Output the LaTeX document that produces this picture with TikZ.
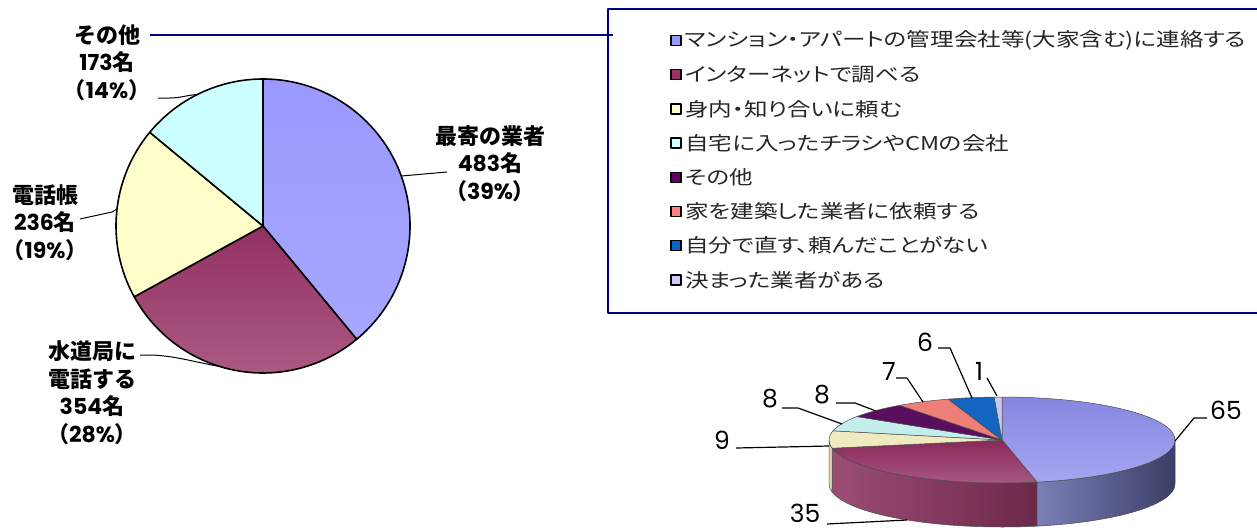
\documentclass[tikz,border=0pt]{standalone}
\usepackage{fontspec}
\setmainfont{Noto Sans CJK JP}
\newfontfamily\legendfont{Noto Sans CJK JP}[FakeStretch=1.24, RawFeature=+palt]
\newfontfamily\numfont{Poppins}
\newcommand{\dg}[1]{{\numfont #1}}
\definecolor{navyline}{HTML}{000080}
\definecolor{cA}{HTML}{9999FF}
\definecolor{cB}{HTML}{993366}
\definecolor{cC}{HTML}{FFFFCC}
\definecolor{cD}{HTML}{CCFFFF}
\definecolor{cE}{HTML}{660066}
\definecolor{cF}{HTML}{FF8080}
\definecolor{cG}{HTML}{0066CC}
\definecolor{cH}{HTML}{CCCCFF}
\definecolor{pA1}{HTML}{9A9AFF}
\definecolor{pA2}{HTML}{A6A6FF}
\definecolor{pB1}{HTML}{923062}
\definecolor{pB2}{HTML}{AC5C84}
\definecolor{tA1}{HTML}{8686E0}
\definecolor{tA2}{HTML}{A6A6F2}
\definecolor{tB1}{HTML}{882A5A}
\definecolor{tB2}{HTML}{AA5884}
\definecolor{tC}{HTML}{F0EAC0}
\definecolor{tD}{HTML}{C4EEEE}
\definecolor{tE}{HTML}{5A0E5E}
\definecolor{tF}{HTML}{EE7F78}
\definecolor{tG}{HTML}{1464C2}
\definecolor{tH}{HTML}{C9C9F0}
\definecolor{sA1}{HTML}{7B7FB5}
\definecolor{sA2}{HTML}{3B3E66}
\definecolor{sB1}{HTML}{9C4D74}
\definecolor{sB2}{HTML}{A9557E}
\definecolor{sB3}{HTML}{6C2849}
\definecolor{sC}{HTML}{E4DCAE}
\begin{document}
\begin{tikzpicture}[x=1pt,y=1pt,line join=round,
  lbl/.style={font=\bfseries\fontsize{22}{27.5}\selectfont, align=center, inner sep=0pt},
  leg/.style={font=\legendfont\fontsize{19}{22}\selectfont, anchor=west, inner sep=0pt, text=black!85},
  legmark/.style={draw=black, line width=1.5pt, minimum size=10pt, inner sep=0pt},
  num/.style={font=\numfont\fontsize{25}{28}\selectfont, inner sep=0pt},
  leader/.style={draw=black, line width=1pt},
  lead3d/.style={draw=black, line width=1.2pt},
  pieline/.style={draw=black, line width=1.6pt},
  edge3d/.style={draw=black!70, line width=0.5pt},
]
\useasboundingbox (0,0) rectangle (1257,-530);
\fill[white] (0,0) rectangle (1257,-530);

% ---------- left pie ----------
\coordinate (C) at (263,-226);
\path[pieline, top color=pA1, bottom color=pA2, shift={(C)}] (0,0) -- (90:147) arc[start angle=90, end angle=-50.4, radius=147] -- cycle;
\path[pieline, top color=pB1, bottom color=pB2, shift={(C)}] (0,0) -- (-50.4:147) arc[start angle=-50.4, end angle=-151.2, radius=147] -- cycle;
\path[pieline, fill=cC, shift={(C)}] (0,0) -- (-151.2:147) arc[start angle=-151.2, end angle=-219.6, radius=147] -- cycle;
\path[pieline, fill=cD, shift={(C)}] (0,0) -- (-219.6:147) arc[start angle=-219.6, end angle=-270, radius=147] -- cycle;

\node[lbl] (lOther) at (107,-62.5) {その他\\\dg{173}名\\（\dg{14\%}）};
\node[lbl] (lNear) at (490,-163.5) {最寄の業者\\\dg{483}名\\（\dg{39\%}）};
\node[lbl] (lBook) at (45,-222.5) {電話帳\\\dg{236}名\\（\dg{19\%}）};
\node[lbl] (lWater) at (92,-392.5) {水道局に\\電話する\\\dg{354}名\\（\dg{28\%}）};

\coordinate (eOther) at (197.4,-94.5);
\coordinate (eNear) at (401.5,-176);
\coordinate (eBook) at (117,-209);
\coordinate (eWater) at (217,-366);
\coordinate (sOther) at (158,-98);
\coordinate (sNear) at (447,-172);
\coordinate (sBook) at (80,-219);
\coordinate (sWater) at (140,-355);
\draw[leader] (sOther) -- (170,-98) .. controls (180,-98) and (188,-95) .. (eOther);
\draw[leader] (eNear) -- (sNear);
\draw[leader] (sBook) -- (112,-212) -- (eBook);
\draw[leader] (sWater) -- (152,-355) .. controls (175,-356) and (195,-362) .. (eWater);

% ---------- navy connector and legend box ----------
\coordinate (nvA) at (150,-35);
\coordinate (nvB) at (613,-35);
\draw[navyline, line width=2pt] (nvA) -- (nvB);
\draw[navyline, line width=2pt] (608,-9) rectangle (1300,-313);

\foreach \i/\col/\txt in {
 1/cA/{マンション・アパートの管理会社等(大家含む)に連絡する},
 2/cB/{インターネットで調べる},
 3/cC/{身内・知り合いに頼む},
 4/cD/{自宅に入ったチラシやCMの会社},
 5/cE/{その他},
 6/cF/{家を建築した業者に依頼する},
 7/cG/{自分で直す、頼んだことがない},
 8/cH/{決まった業者がある}} {
  \pgfmathsetmacro{\yy}{-40.5-34.2*(\i-1)}
  \node[legmark, fill=\col] (m\i) at (676,\yy) {};
  \node[leg] (t\i) at (685,\yy) {\txt};
}

% ---------- 3D pie ----------
\coordinate (O) at (1002,-440);
% sides
\path[edge3d, left color=sA1, right color=sA2, shift={(O)}] (0:173 and 43) arc[start angle=0, end angle=-78.35, x radius=173, y radius=43] -- ++(0,-44) arc[start angle=-78.35, end angle=0, x radius=173, y radius=43] -- cycle;
\path[edge3d, left color=sB1, middle color=sB2, right color=sB3, shift={(O)}] (-78.35:173 and 43) arc[start angle=-78.35, end angle=-169.0, x radius=173, y radius=43] -- ++(0,-44) arc[start angle=-169.0, end angle=-78.35, x radius=173, y radius=43] -- cycle;
\path[edge3d, fill=sC, shift={(O)}] (-169.0:173 and 43) arc[start angle=-169.0, end angle=-180, x radius=173, y radius=43] -- ++(0,-44) arc[start angle=-180, end angle=-169.0, x radius=173, y radius=43] -- cycle;
% top faces
\path[edge3d, top color=tA1, bottom color=tA2, shift={(O)}] (0,0) -- (90:173 and 43) arc[start angle=90, end angle=-78.35, x radius=173, y radius=43] -- cycle;
\path[edge3d, top color=tB1, bottom color=tB2, shift={(O)}] (0,0) -- (-78.35:173 and 43) arc[start angle=-78.35, end angle=-169.0, x radius=173, y radius=43] -- cycle;
\path[edge3d, fill=tC, shift={(O)}] (0,0) -- (-169.0:173 and 43) arc[start angle=-169.0, end angle=-192.31, x radius=173, y radius=43] -- cycle;
\path[edge3d, fill=tD, shift={(O)}] (0,0) -- (-192.31:173 and 43) arc[start angle=-192.31, end angle=-213.03, x radius=173, y radius=43] -- cycle;
\path[edge3d, fill=tE, shift={(O)}] (0,0) -- (-213.03:173 and 43) arc[start angle=-213.03, end angle=-233.75, x radius=173, y radius=43] -- cycle;
\path[edge3d, fill=tF, shift={(O)}] (0,0) -- (-233.75:173 and 43) arc[start angle=-233.75, end angle=-251.88, x radius=173, y radius=43] -- cycle;
\path[edge3d, fill=tG, shift={(O)}] (0,0) -- (-251.88:173 and 43) arc[start angle=-251.88, end angle=-267.42, x radius=173, y radius=43] -- cycle;
\path[edge3d, fill=tH, shift={(O)}] (0,0) -- (-267.42:173 and 43) arc[start angle=-267.42, end angle=-270, x radius=173, y radius=43] -- cycle;

% 3D labels
\node[num] (n65) at (1226,-410) {65};
\node[num] (n35) at (805,-513) {35};
\node[num] (n9) at (722,-440) {9};
\node[num] (n8a) at (770,-399) {8};
\node[num] (n8b) at (822,-395) {8};
\node[num] (n7) at (889,-371) {7};
\node[num] (n6) at (925,-342) {6};
\node[num] (n1) at (979,-371) {1};

\coordinate (s65) at (1207,-418);
\coordinate (e65) at (1175,-441);
\coordinate (s35) at (827,-524);
\coordinate (e35) at (907,-520);
\coordinate (s9) at (736,-448);
\coordinate (e9) at (829,-446);
\coordinate (s8a) at (782,-408);
\coordinate (e8a) at (842,-424);
\coordinate (s8b) at (836,-403);
\coordinate (e8b) at (876,-411);
\coordinate (s7) at (896,-378);
\coordinate (e7) at (923,-402);
\coordinate (s6) at (938,-348);
\coordinate (e6) at (972,-398);
\coordinate (s1) at (987,-378);
\coordinate (e1) at (997,-396);
\draw[lead3d] (s65) -- (1194,-418) -- (e65);
\draw[lead3d] (s35) -- (e35);
\draw[lead3d] (s9) -- (e9);
\draw[lead3d] (s8a) -- (798,-408) -- (e8a);
\draw[lead3d] (s8b) -- (855,-403) -- (e8b);
\draw[lead3d] (s7) -- (907,-378) -- (e7);
\draw[lead3d] (s6) -- (950,-348) -- (e6);
\draw[lead3d] (s1) -- (e1);
\end{tikzpicture}
\end{document}
